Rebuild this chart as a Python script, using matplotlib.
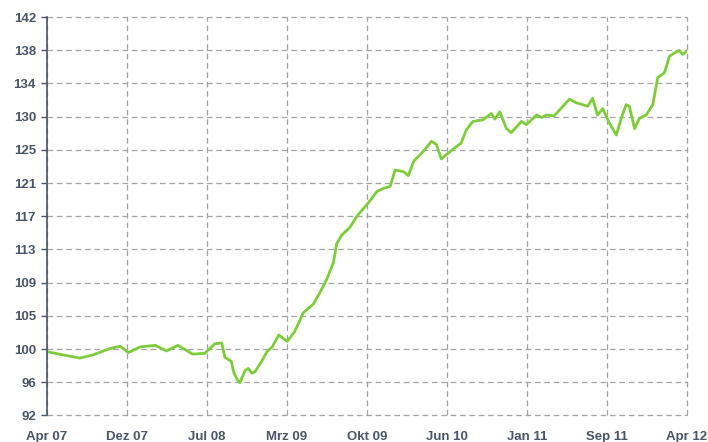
import matplotlib
matplotlib.use("Agg")
import matplotlib.pyplot as plt
import matplotlib.dates as mdates
import numpy as np
import pandas as pd

# index values
dates = [
    "2007-04-01", "2007-05-17", "2007-07-04", "2007-08-10", "2007-09-28", "2007-10-27",
    "2007-11-19", "2007-12-23", "2008-02-04", "2008-03-07", "2008-04-09", "2008-05-21",
    "2008-06-25", "2008-07-23", "2008-08-12", "2008-08-21", "2008-09-08", "2008-09-16",
    "2008-09-28", "2008-10-03", "2008-10-17", "2008-10-27", "2008-11-06", "2008-11-15",
    "2008-12-04", "2008-12-19", "2009-01-03", "2009-01-22", "2009-02-15", "2009-03-08",
    "2009-04-02", "2009-05-01", "2009-05-19", "2009-06-08", "2009-06-27", "2009-07-06",
    "2009-07-20", "2009-08-13", "2009-09-02", "2009-10-05", "2009-10-29", "2009-11-17",
    "2009-12-06", "2009-12-20", "2010-01-13", "2010-01-27", "2010-02-11", "2010-03-10",
    "2010-04-03", "2010-04-17", "2010-05-01", "2010-05-15", "2010-06-03", "2010-06-27",
    "2010-07-11", "2010-07-30", "2010-08-28", "2010-09-21", "2010-10-01", "2010-10-15",
    "2010-11-03", "2010-11-17", "2010-12-16", "2010-12-30", "2011-01-28", "2011-02-12",
    "2011-02-26", "2011-03-19", "2011-04-03", "2011-05-02", "2011-05-21", "2011-06-09",
    "2011-06-23", "2011-07-07", "2011-07-21", "2011-08-05", "2011-08-24", "2011-09-13",
    "2011-09-27", "2011-10-11", "2011-10-20", "2011-11-04", "2011-11-18", "2011-12-07",
    "2011-12-26", "2012-01-09", "2012-01-28", "2012-02-12", "2012-02-26", "2012-03-11",
    "2012-03-20", "2012-04-01",
]
values = [
    100.0, 99.6, 99.2, 99.6, 100.4, 100.7,
    99.9, 100.6, 100.8, 100.1, 100.8, 99.7,
    99.8, 101.0, 101.1, 99.3, 98.8, 97.3,
    96.3, 96.1, 97.6, 97.9, 97.3, 97.5,
    98.8, 100.0, 100.6, 102.1, 101.3, 102.5,
    104.9, 106.0, 107.4, 109.1, 111.2, 113.5,
    114.6, 115.6, 117.0, 118.7, 120.1, 120.5,
    120.75, 122.8, 122.6, 122.1, 123.9, 125.1,
    126.4, 126.0, 124.2, 124.7, 125.4, 126.2,
    127.8, 128.9, 129.1, 129.9, 129.2, 130.1,
    128.0, 127.5, 128.9, 128.5, 129.7, 129.4,
    129.7, 129.6, 130.3, 131.7, 131.25, 131.0,
    130.8, 131.8, 129.7, 130.5, 128.7, 127.2,
    129.3, 131.0, 130.8, 128.0, 129.3, 129.7,
    131.0, 134.4, 135.0, 137.1, 137.5, 137.8,
    137.3, 137.7,
]

x_tick_labels = ["Apr 07", "Dez 07", "Jul 08", "Mrz 09", "Okt 09",
                 "Jun 10", "Jan 11", "Sep 11", "Apr 12"]
y_tick_labels = ["92", "96", "100", "105", "109", "113", "117",
                 "121", "125", "130", "134", "138", "142"]

x = mdates.date2num(pd.to_datetime(dates))

plt.rcParams["font.family"] = ["Liberation Sans", "DejaVu Sans"]

fig = plt.figure(figsize=(7.08, 4.42), dpi=100)
ax = fig.add_axes([0.0664, 0.060, 0.9036, 0.9015])

ax.plot(x, values, color="#7dcd3a", linewidth=2.0, solid_joinstyle="round", zorder=3)

x0, x1 = x[0], x[-1]
ax.set_xlim(x0, x1)
ax.set_ylim(92, 142)

ax.set_xticks(np.linspace(x0, x1, len(x_tick_labels)))
ax.set_xticklabels(x_tick_labels)
ax.set_yticks(np.linspace(92, 142, len(y_tick_labels)))
ax.set_yticklabels(y_tick_labels)

label_color = "#4b5568"
ax.tick_params(axis="x", length=0, pad=11, labelsize=9.5, labelcolor=label_color)
ax.tick_params(axis="y", length=4, width=1, color=label_color, pad=4,
               labelsize=9.5, labelcolor=label_color)
for lbl in ax.get_xticklabels() + ax.get_yticklabels():
    lbl.set_fontweight("bold")

ax.grid(True, color="#a3a3a3", linewidth=0.9, linestyle=(0, (4.5, 3)))
for gl in ax.get_xgridlines() + ax.get_ygridlines():
    gl.set_clip_on(False)

for side in ["top", "right", "bottom"]:
    ax.spines[side].set_visible(False)
ax.spines["left"].set_color(label_color)
ax.spines["left"].set_linewidth(1.2)
ax.spines["left"].set_zorder(4)

fig.savefig("out.png", dpi=100)
